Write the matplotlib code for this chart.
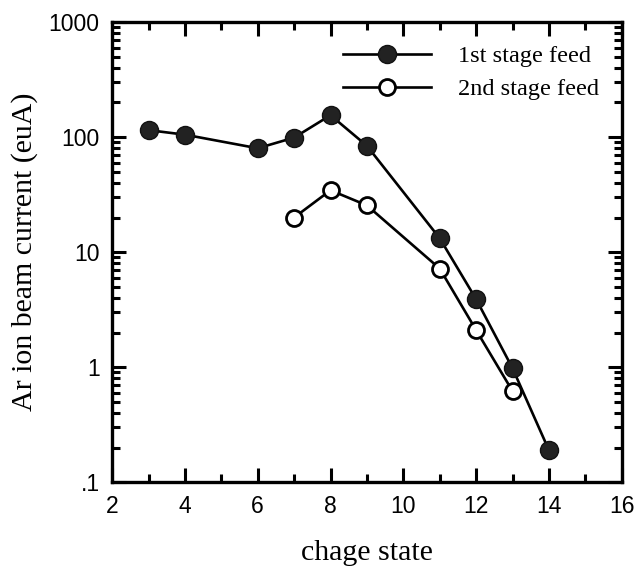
import matplotlib
matplotlib.use('Agg')
import matplotlib.pyplot as plt
from matplotlib.ticker import LogLocator, NullFormatter, MultipleLocator

# Data
q_first = [3, 4, 6, 7, 8, 9, 11, 12, 13, 14]
i_first = [115, 105, 80, 99, 155, 84, 13.2, 3.9, 0.98, 0.19]
q_second = [7, 8, 9, 11, 12, 13]
i_second = [20, 34.5, 25.5, 7.2, 2.1, 0.62]

yticks = [0.1, 1, 10, 100, 1000]
ytick_labels = ['.1', '1', '10', '100', '1000']
xticks = [2, 4, 6, 8, 10, 12, 14, 16]

fig = plt.figure(figsize=(6.37, 5.66), dpi=100)
ax = fig.add_axes([0.176, 0.148, 0.8, 0.813])

ax.plot(q_first, i_first, '-o', color='black', lw=1.9,
        markersize=13, markerfacecolor='#222222', markeredgecolor='#111111',
        label='1st stage feed', zorder=3)
ax.plot(q_second, i_second, '-o', color='black', lw=1.9,
        markersize=11.5, markerfacecolor='white', markeredgecolor='black',
        markeredgewidth=2.0, label='2nd stage feed', zorder=3)

ax.set_yscale('log')
ax.set_xlim(2, 16)
ax.set_ylim(0.1, 1000)
ax.set_xticks(xticks)
ax.set_xticklabels([str(x) for x in xticks])
ax.xaxis.set_minor_locator(MultipleLocator(1))
ax.set_yticks(yticks)
ax.set_yticklabels(ytick_labels)
ax.yaxis.set_minor_locator(LogLocator(base=10, subs=range(2, 10)))
ax.yaxis.set_minor_formatter(NullFormatter())

ax.tick_params(which='both', direction='in', top=True, right=True, width=2.2)
ax.tick_params(which='major', length=10, labelsize=16.5, pad=9)
ax.tick_params(which='minor', length=6)
for lab in ax.get_xticklabels() + ax.get_yticklabels():
    lab.set_family('Liberation Sans')
for s in ax.spines.values():
    s.set_linewidth(2.4)

ax.set_xlabel('chage state', family='Liberation Serif', fontsize=21.5, labelpad=16)
ax.set_ylabel('Ar ion beam current (euA)', family='Liberation Serif', fontsize=21.5, labelpad=8)

ax.legend(loc='upper right', frameon=False, handlelength=3.6, handletextpad=1.1,
          labelspacing=0.45, borderaxespad=0.55,
          prop={'family': 'Liberation Serif', 'size': 17.5})

fig.savefig('out.png', dpi=100)
